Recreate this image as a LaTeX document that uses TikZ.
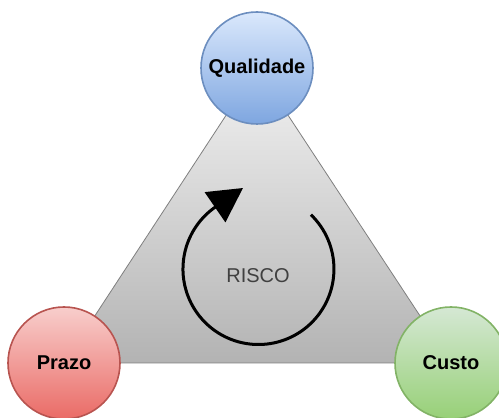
\documentclass[tikz,border=0pt]{standalone}
\usepackage{fontspec}
\setmainfont{Liberation Sans}
\usetikzlibrary{arrows.meta}
\definecolor{qfill1}{HTML}{DAE8FC}\definecolor{qfill2}{HTML}{7EA6E0}\definecolor{qline}{HTML}{6C8EBF}
\definecolor{pfill1}{HTML}{F8CECC}\definecolor{pfill2}{HTML}{EA6B66}\definecolor{pline}{HTML}{B85450}
\definecolor{cfill1}{HTML}{D5E8D4}\definecolor{cfill2}{HTML}{97D077}\definecolor{cline}{HTML}{82B366}
\definecolor{tfill1}{HTML}{F2F2F2}\definecolor{tfill2}{HTML}{B3B3B3}\definecolor{tline}{HTML}{7F7F7F}
\definecolor{risk}{HTML}{404040}
\begin{document}
\begin{tikzpicture}[x=1pt,y=1pt,
  vertex/.style={circle,minimum size=112pt,inner sep=0pt,line width=1.6pt,
    font=\fontsize{20}{24}\selectfont\bfseries,text=black},
  qual/.style={vertex,draw=qline,top color=qfill1,bottom color=qfill2},
  praz/.style={vertex,draw=pline,top color=pfill1,bottom color=pfill2},
  cust/.style={vertex,draw=cline,top color=cfill1,bottom color=cfill2},
  tri/.style={draw=tline,line width=0.8pt,top color=tfill1,bottom color=tfill2},
  cyc/.style={line width=3pt,black}]
\useasboundingbox (0,0) rectangle (499,418);
\coordinate (tq) at (257,350);
\coordinate (tp) at (64,55);
\coordinate (tc) at (451,55);
\path[tri] (tq) -- (tp) -- (tc) -- cycle;
\node[font=\fontsize{20}{24}\selectfont,text=risk] (risco) at (258,142) {RISCO};
\coordinate (arcstart) at (310.9,203.3);
\coordinate (tip) at (243,230);
\draw[cyc,-{Triangle[length=34pt,width=36pt]}] (arcstart) arc[start angle=46,end angle=-236,radius=75.5] -- (tip);
\node[qual] (q) at (tq) {Qualidade};
\node[praz] (p) at (tp) {Prazo};
\node[cust] (c) at (tc) {Custo};
\end{tikzpicture}
\end{document}
